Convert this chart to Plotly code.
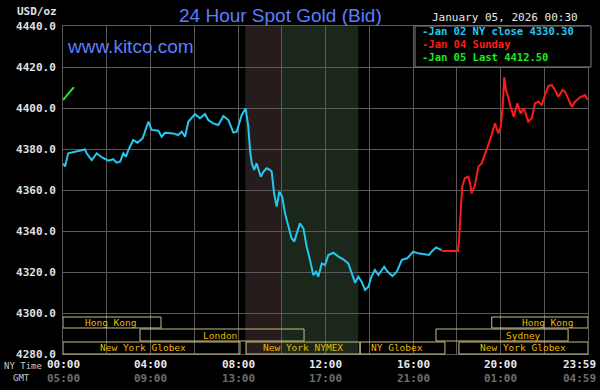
import plotly.graph_objects as go

# ---------------- data ----------------
# hours (NY time) and bid prices
cyan_t = [0.01, 0.09, 0.24, 0.55, 1.01, 1.08, 1.31, 1.54, 1.77, 2.07, 2.30, 2.45, 2.61, 2.76, 2.88, 2.99,
          3.21, 3.40, 3.64, 3.90, 4.05, 4.36, 4.51, 4.66, 5.04, 5.27, 5.43, 5.58, 5.73, 6.03, 6.26, 6.49,
          6.64, 6.87, 7.10, 7.33, 7.56, 7.79, 7.94, 8.17, 8.35, 8.47, 8.55, 8.63, 8.74, 8.85, 9.04, 9.16,
          9.31, 9.46, 9.54, 9.65, 9.77, 9.89, 10.02, 10.15, 10.30, 10.45, 10.57, 10.68, 10.83, 10.99, 11.14,
          11.29, 11.44, 11.57, 11.67, 11.83, 11.98, 12.13, 12.36, 12.59, 12.81, 13.04, 13.20, 13.35, 13.50,
          13.65, 13.81, 13.96, 14.11, 14.26, 14.42, 14.68, 14.83, 15.06, 15.26, 15.49, 15.74, 16.01, 16.24,
          16.47, 16.73, 16.85, 17.05, 17.31]
cyan_v = [4373.0, 4371.4, 4377.9, 4378.7, 4379.8, 4377.9, 4374.6, 4377.9, 4376.0, 4374.3, 4375.0, 4373.3,
          4373.8, 4377.9, 4376.3, 4379.5, 4384.4, 4383.1, 4385.2, 4393.3, 4389.3, 4388.9, 4386.0, 4387.9,
          4387.6, 4386.8, 4388.5, 4386.0, 4393.3, 4397.0, 4395.0, 4397.0, 4394.1, 4392.5, 4391.7, 4396.1,
          4394.1, 4388.0, 4388.5, 4396.6, 4399.8, 4390.9, 4379.5, 4373.0, 4369.8, 4373.0, 4366.5, 4368.9,
          4370.6, 4369.8, 4368.9, 4358.4, 4351.9, 4359.2, 4356.7, 4348.6, 4342.1, 4336.4, 4334.8, 4338.9,
          4343.7, 4341.3, 4332.3, 4325.9, 4318.5, 4320.2, 4317.7, 4324.2, 4323.4, 4328.3, 4329.4, 4327.5,
          4326.2, 4324.2, 4319.4, 4314.8, 4317.7, 4315.3, 4311.2, 4312.8, 4318.0, 4321.0, 4318.5, 4322.6,
          4320.2, 4318.0, 4320.2, 4325.9, 4326.7, 4329.9, 4329.1, 4328.8, 4328.3, 4329.9, 4332.0, 4330.7]

red_t = [17.31, 18.05, 18.10, 18.20, 18.25, 18.37, 18.53, 18.61, 18.68, 18.83, 18.99, 19.14, 19.29, 19.44,
         19.59, 19.75, 19.90, 20.01, 20.10, 20.17, 20.25, 20.35, 20.46, 20.61, 20.77, 20.92, 21.07, 21.27,
         21.43, 21.58, 21.73, 21.88, 22.03, 22.19, 22.34, 22.49, 22.64, 22.84, 22.95, 23.10, 23.26, 23.41,
         23.63, 23.86, 23.98]
red_v = [4330.3, 4330.3, 4335.0, 4351.0, 4361.6, 4365.7, 4366.5, 4363.3, 4358.4, 4362.4, 4371.4, 4373.0,
         4377.1, 4382.0, 4386.8, 4392.5, 4387.6, 4390.9, 4400.6, 4415.0, 4408.8, 4405.5, 4400.6, 4395.7,
         4402.3, 4397.4, 4399.8, 4393.3, 4395.0, 4402.3, 4403.1, 4401.5, 4406.3, 4410.7, 4411.2, 4408.8,
         4405.5, 4408.8, 4408.0, 4404.7, 4400.6, 4403.1, 4405.2, 4406.3, 4404.0]

green_t = [0.0, 0.17, 0.32, 0.5]
green_v = [4403.9, 4406.3, 4408.0, 4410.1]

legend_labels = ["Jan 02 NY close 4330.30", "Jan 04 Sunday", "Jan 05 Last 4412.50"]

tick_hours = [0, 4, 8, 12, 16, 20, 23.983]
ny_labels = ["00:00", "04:00", "08:00", "12:00", "16:00", "20:00", "23:59"]
gmt_labels = ["05:00", "09:00", "13:00", "17:00", "21:00", "01:00", "04:59"]

session_names = ["Hong Kong", "Hong Kong", "London", "Sydney",
                 "New York Globex", "New York NYMEX", "NY Globex", "New York Globex"]
session_start = [0.0, 19.6, 3.52, 17.05, 0.0, 8.37, 13.58, 18.1]
session_end = [4.48, 24.0, 11.02, 23.09, 8.09, 13.58, 17.46, 24.0]
session_row = [0, 0, 1, 1, 2, 2, 2, 2]
session_label_at = [2.15, 22.13, 7.18, 21.03, 3.66, 10.97, 15.27, 21.03]

shade_start = [8.33, 10.0]
shade_end = [10.0, 13.5]

# ---------------- styles ----------------
MONO = "DejaVu Sans Mono"
BLUE = "#5a7eff"
CYAN = "#22c8f0"
RED = "#ff1a1a"
GREEN = "#1ee81e"
GRID = "#5a5a5a"
GOLD = "#e8b800"
TAN = "#c8bc84"
shade_colors = ["#271c1c", "#1c271c"]
row_y = [(0.0793, 0.1128), (0.0396, 0.0762), (0.0, 0.0366)]


def px_x(p):
    return (p - 63) / 525


def px_y(p):
    return (354 - p) / 328


fig = go.Figure()
fig.add_trace(go.Scatter(x=cyan_t, y=cyan_v, mode="lines", line=dict(color=CYAN, width=2),
                         name=legend_labels[0], showlegend=False))
fig.add_trace(go.Scatter(x=red_t, y=red_v, mode="lines", line=dict(color=RED, width=2),
                         name=legend_labels[1], showlegend=False))
fig.add_trace(go.Scatter(x=green_t, y=green_v, mode="lines", line=dict(color=GREEN, width=2),
                         name=legend_labels[2], showlegend=False))

shapes = []
for s, e, c in zip(shade_start, shade_end, shade_colors):
    shapes.append(dict(type="rect", xref="x", yref="paper", x0=s, x1=e, y0=0, y1=1,
                       fillcolor=c, line=dict(width=0), layer="below"))

annotations = []
for name, s, e, r, lab in zip(session_names, session_start, session_end, session_row, session_label_at):
    y0, y1 = row_y[r]
    shapes.append(dict(type="rect", xref="x", yref="paper", x0=s, x1=e, y0=y0, y1=y1,
                       line=dict(color=TAN, width=1), fillcolor="rgba(0,0,0,0)", layer="above"))
    annotations.append(dict(x=lab, y=(y0 + y1) / 2, xref="x", yref="paper", text=name,
                            showarrow=False, font=dict(family=MONO, size=9.5, color=GOLD),
                            xanchor="center", yanchor="middle", borderpad=0))

# legend box
shapes.append(dict(type="rect", xref="paper", yref="paper", x0=px_x(415), x1=px_x(591),
                   y0=px_y(67), y1=1.0, fillcolor="black", line=dict(color="#808080", width=1),
                   layer="above"))
leg_colors = [CYAN, RED, GREEN]
leg_y = [31.5, 44, 56.5]
for lab, c, yy in zip(legend_labels, leg_colors, leg_y):
    annotations.append(dict(x=px_x(421), y=px_y(yy), xref="paper", yref="paper", text="-" + lab,
                            showarrow=False, xanchor="left", yanchor="middle", borderpad=0,
                            font=dict(family=MONO, size=10.5, color=c, weight="bold")))

# time labels
for i, (h, ny, gm) in enumerate(zip(tick_hours, ny_labels, gmt_labels)):
    shift = -8 if i == len(tick_hours) - 1 else 0
    annotations.append(dict(x=h, y=px_y(364), xref="x", yref="paper", text=ny, showarrow=False,
                            xanchor="center", yanchor="middle", xshift=shift, borderpad=0,
                            font=dict(family=MONO, size=11, color="#e8e8e8", weight="bold")))
    annotations.append(dict(x=h, y=px_y(378), xref="x", yref="paper", text=gm, showarrow=False,
                            xanchor="center", yanchor="middle", xshift=shift, borderpad=0,
                            font=dict(family=MONO, size=11, color="#6e6e6e", weight="bold")))
annotations.append(dict(x=px_x(3), y=px_y(366), xref="paper", yref="paper", text="NY Time",
                        showarrow=False, xanchor="left", yanchor="middle", borderpad=0,
                        font=dict(family=MONO, size=9, color="#c8c8c8")))
annotations.append(dict(x=px_x(12), y=px_y(378), xref="paper", yref="paper", text="GMT",
                        showarrow=False, xanchor="left", yanchor="middle", borderpad=0,
                        font=dict(family=MONO, size=9, color="#c8c8c8")))

# titles
annotations.append(dict(xref="paper", yref="paper", x=px_x(280), y=px_y(15),
                        text="24 Hour Spot Gold (Bid)", showarrow=False, xanchor="center",
                        yanchor="middle", font=dict(family="Liberation Sans", size=19, color=BLUE)))
annotations.append(dict(xref="paper", yref="paper", x=px_x(65), y=px_y(47),
                        text="www.kitco.com", showarrow=False, xanchor="left", yanchor="middle",
                        font=dict(family="Liberation Sans", size=19, color=BLUE)))
annotations.append(dict(xref="paper", yref="paper", x=px_x(580), y=px_y(17),
                        text="January 05, 2026 00:30", showarrow=False, xanchor="right",
                        yanchor="middle", font=dict(family=MONO, size=11, color="#e8e8e8")))
annotations.append(dict(xref="paper", yref="paper", x=px_x(59), y=px_y(12),
                        text="USD/oz", showarrow=False, xanchor="right", yanchor="middle",
                        font=dict(family=MONO, size=11, color="#e0e0e0", weight="bold")))

fig.update_layout(
    width=600, height=390,
    margin=dict(l=63, r=12, t=26, b=36, pad=0),
    paper_bgcolor="black", plot_bgcolor="black",
    shapes=shapes, annotations=annotations,
    showlegend=False,
    xaxis=dict(range=[0, 24], dtick=2, tick0=0, showticklabels=False, showgrid=True,
               gridcolor=GRID, gridwidth=1, zeroline=False, showline=True, linecolor=GRID,
               mirror=True, ticks=""),
    yaxis=dict(range=[4280, 4440], dtick=20, tick0=4280, tickformat=".1f", showgrid=True,
               gridcolor=GRID, gridwidth=1, zeroline=False, showline=True, linecolor=GRID,
               mirror=True, ticks="", ticklabelstandoff=4,
               tickfont=dict(family=MONO, size=11, color="#e0e0e0", weight="bold")),
)

fig.write_html("out.html")
